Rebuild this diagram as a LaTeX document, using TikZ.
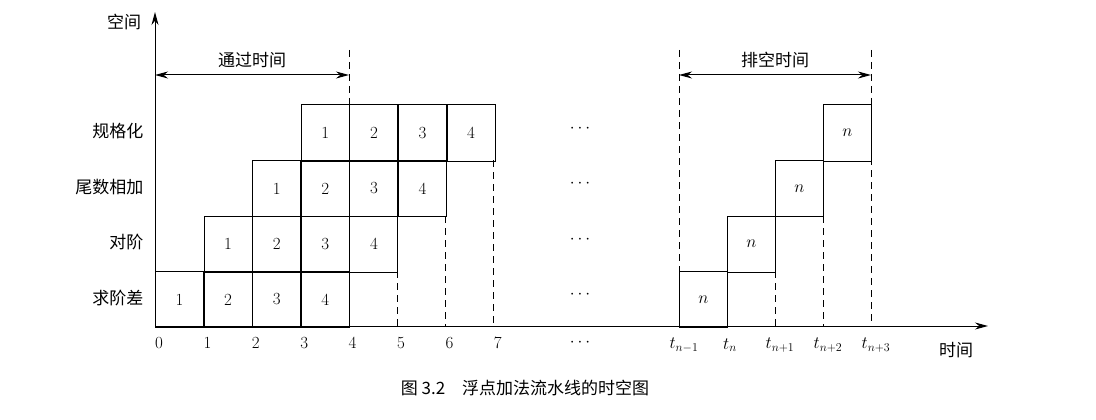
\documentclass[tikz,border=0pt]{standalone}
\usepackage{fontspec}
\newfontfamily\cjk{Noto Sans CJK SC}
\usetikzlibrary{arrows.meta}
\begin{document}
\begin{tikzpicture}[x=1pt,y=-1pt,
  every node/.style={font=\fontsize{17}{20}\selectfont},
  cjkf/.style={font=\cjk\fontsize{17}{20}\selectfont},
  cell/.style={draw,line width=1pt,minimum width=48pt,minimum height=56pt,anchor=north west,inner sep=0pt},
  dsh/.style={line width=1pt,dash pattern=on 7pt off 5pt},
  ax/.style={line width=1pt,-{Stealth[length=13pt,width=7pt]}},
  lbl/.style={anchor=east,cjkf}]
\useasboundingbox (0,0) rectangle (1096,420);
\coordinate (O) at (155,326);
\coordinate (ytop) at (155,12);
\coordinate (xend) at (988,326);
\draw[ax] (O) -- (ytop);
\draw[ax] (O) -- (xend);
\node[cjkf] (ylab) at (124,22) {空间};
\node[cjkf] (xlab) at (956,350) {时间};
\foreach \r/\lab in {0/求阶差,1/对阶,2/尾数相加,3/规格化}{
  \pgfmathsetmacro{\yt}{271-55.5*\r}
  \node[lbl] (lab\r) at (147,\yt+27) {\lab};
  \foreach \c in {0,...,3}{
    \pgfmathsetmacro{\xl}{155+48.6*(\r+\c)}
    \node[cell] (c\r\c) at (\xl,\yt) {\pgfmathparse{int(\c+1)}\pgfmathresult};
  }
  \pgfmathsetmacro{\xr}{679+48*\r}
  \node[cell] (n\r) at (\xr,\yt) {$n$};
  \node (dots\r) at (580,\yt+24) {$\cdots$};
}
\coordinate (d4) at (349,50); \coordinate (d4b) at (349,326); \draw[dsh] (d4) -- (d4b);
\coordinate (d5) at (397,271); \coordinate (d5b) at (397,326); \draw[dsh] (d5) -- (d5b);
\coordinate (d6) at (445,216); \coordinate (d6b) at (445,326); \draw[dsh] (d6) -- (d6b);
\coordinate (d7) at (493,160); \coordinate (d7b) at (493,326); \draw[dsh] (d7) -- (d7b);
\coordinate (e0) at (679,50); \coordinate (e0b) at (679,326); \draw[dsh] (e0) -- (e0b);
\coordinate (e2) at (775,271); \coordinate (e2b) at (775,326); \draw[dsh] (e2) -- (e2b);
\coordinate (e3) at (823,216); \coordinate (e3b) at (823,326); \draw[dsh] (e3) -- (e3b);
\coordinate (e4) at (871,50); \coordinate (e4b) at (871,326); \draw[dsh] (e4) -- (e4b);
\coordinate (a1) at (155,75); \coordinate (a2) at (349,75);
\draw[line width=1pt,{Stealth[length=13pt,width=7pt]}-{Stealth[length=13pt,width=7pt]}] (a1) -- node[above=3pt,cjkf]{通过时间} (a2);
\coordinate (b1) at (679,75); \coordinate (b2) at (871,75);
\draw[line width=1pt,{Stealth[length=13pt,width=7pt]}-{Stealth[length=13pt,width=7pt]}] (b1) -- node[above=3pt,cjkf]{排空时间} (b2);
\foreach \i in {0,...,7}{ \node (t\i) at (155+48.4*\i+4,343) {\i}; }
\node (tdots) at (580,343) {$\cdots$};
\node (tn1) at (684,345) {$t_{n-1}$};
\node (tn) at (730,345) {$t_{n}$};
\node (tn2) at (780,345) {$t_{n+1}$};
\node (tn3) at (828,345) {$t_{n+2}$};
\node (tn4) at (876,345) {$t_{n+3}$};
\node[cjkf] (cap) at (525,388) {图 3.2\quad 浮点加法流水线的时空图};
\end{tikzpicture}
\end{document}
